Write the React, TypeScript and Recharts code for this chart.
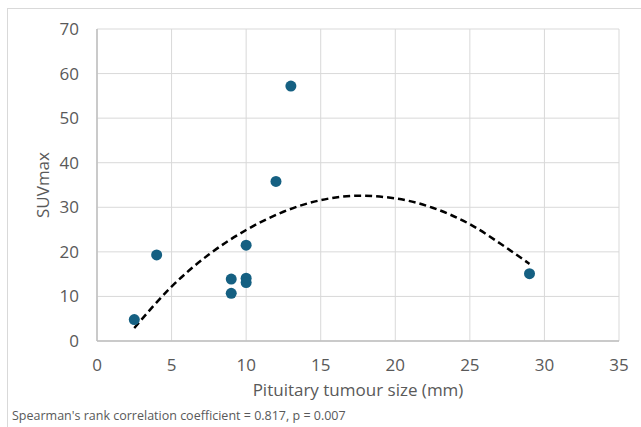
import { ComposedChart, Scatter, Line, XAxis, YAxis, CartesianGrid, Label } from "recharts";

// measured points: tumour size (mm) vs SUVmax
const sizeMm = [2.5, 4, 9, 9, 10, 10, 10, 12, 13, 29];
const suvMax = [4.8, 19.3, 13.9, 10.7, 21.5, 14.1, 13.1, 35.8, 57.2, 15.1];

// polynomial trendline
const trendX = [2.5, 5, 7.5, 10, 12.5, 15, 17.5, 20, 22.5, 25, 27.5, 29];
const trendY = [2.9, 12.2, 19.4, 24.9, 29.0, 31.6, 32.6, 32.0, 29.9, 26.2, 20.8, 17.3];

const xTicks = [0, 5, 10, 15, 20, 25, 30, 35];
const yTicks = [0, 10, 20, 30, 40, 50, 60, 70];

const points = sizeMm.map((x, i) => ({ x, y: suvMax[i] }));
const trend = trendX.map((x, i) => ({ x, y: trendY[i] }));

const FONT = "'Open Sans', sans-serif";
const TEXT = "#595959";

export default function App() {
  return (
    <div
      style={{
        position: "absolute",
        left: 0,
        top: 0,
        width: 641,
        height: 427,
        background: "#fff",
        overflow: "hidden",
        fontFamily: FONT,
      }}
    >
      <div
        style={{
          position: "absolute",
          left: 7,
          top: 8,
          width: 700,
          height: 500,
          borderLeft: "1px solid #d9d9d9",
          borderTop: "1px solid #d9d9d9",
        }}
      />
      <div style={{ position: "absolute", left: 0, top: 0 }}>
        <ComposedChart
          width={641}
          height={427}
          margin={{ top: 29, right: 22, left: 0, bottom: 0 }}
        >
          <CartesianGrid stroke="#d9d9d9" strokeWidth={1} />
          <XAxis
            type="number"
            dataKey="x"
            domain={[0, 35]}
            ticks={xTicks}
            allowDataOverflow
            height={86}
            tickLine={false}
            tickSize={6}
            tickMargin={12}
            axisLine={{ stroke: "#bfbfbf", strokeWidth: 1.5 }}
            tick={{ fontSize: 17, fill: TEXT, fontFamily: FONT }}
          >
            <Label
              content={() => (
                <text
                  x={358}
                  y={396}
                  textAnchor="middle"
                  fontSize={17}
                  fill={TEXT}
                  fontFamily={FONT}
                >
                  Pituitary tumour size (mm)
                </text>
              )}
            />
          </XAxis>
          <YAxis
            type="number"
            dataKey="y"
            domain={[0, 70]}
            ticks={yTicks}
            width={97}
            tickLine={false}
            tickSize={6}
            tickMargin={12}
            axisLine={{ stroke: "#bfbfbf", strokeWidth: 1.5 }}
            tick={{ fontSize: 17, fill: TEXT, fontFamily: FONT }}
          >
            <Label
              content={() => (
                <text
                  x={49}
                  y={185}
                  transform="rotate(-90 49 185)"
                  textAnchor="middle"
                  fontSize={17}
                  fill={TEXT}
                  fontFamily={FONT}
                >
                  SUVmax
                </text>
              )}
            />
          </YAxis>
          <Line
            data={trend}
            dataKey="y"
            type="monotone"
            stroke="#000"
            strokeWidth={2.5}
            strokeDasharray="7 4"
            dot={false}
            activeDot={false}
            isAnimationActive={false}
          />
          <Scatter
            data={points}
            dataKey="y"
            fill="#156082"
            shape={(p: any) => <circle cx={p.cx} cy={p.cy} r={5.5} fill="#156082" />}
            isAnimationActive={false}
          />
        </ComposedChart>
      </div>
      <div
        style={{
          position: "absolute",
          left: 12,
          top: 407,
          fontSize: 12.5,
          color: TEXT,
          whiteSpace: "nowrap",
          lineHeight: "18px",
        }}
      >
        Spearman's rank correlation coefficient = 0.817, p = 0.007
      </div>
    </div>
  );
}
